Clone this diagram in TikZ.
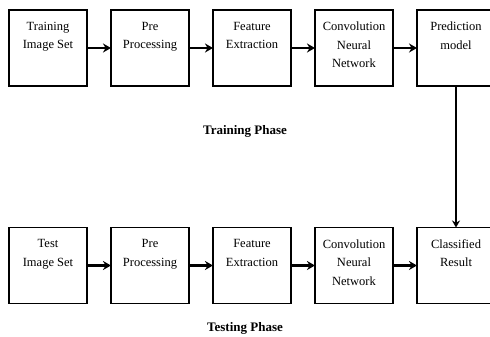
\documentclass[tikz,border=0pt]{standalone}
\usepackage{fontspec}
\setmainfont{Liberation Serif}
\usepackage{tikz}
\usetikzlibrary{arrows.meta,positioning}

\begin{document}
\begin{tikzpicture}[x=1pt, y=-1pt,
  blk/.style={draw, line width=1.6pt, minimum width=78pt,
              minimum height=76pt, inner sep=0pt, outer sep=0pt},
  lbl/.style={anchor=north, align=center, yshift=-8.5pt,
              font=\fontsize{12.5}{18.5}\selectfont},
  arr/.style={-{Stealth[length=8pt, width=9pt]}, line width=2.3pt},
  phase/.style={font=\fontsize{13}{15}\selectfont\bfseries}
]
\clip (0,0) rectangle (490,337);
% Training row
\node[blk, label={[lbl]north:Training\\Image Set}] (trimg) at (48,48) {};
\node[blk, label={[lbl]north:Pre\\Processing}, right=24pt of trimg] (trpre) {};
\node[blk, label={[lbl]north:Feature\\Extraction}, right=24pt of trpre] (trfeat) {};
\node[blk, label={[lbl]north:Convolution\\Neural\\Network}, right=24pt of trfeat] (trcnn) {};
\node[blk, label={[lbl]north:Prediction\\model}, right=24pt of trcnn] (pred) {};
\node[phase] (trphase) at (245,131) {Training Phase};
% Testing row
\node[blk, label={[lbl]north:Test\\Image Set}] (tsimg) at (48,265.5) {};
\node[blk, label={[lbl]north:Pre\\Processing}, right=24pt of tsimg] (tspre) {};
\node[blk, label={[lbl]north:Feature\\Extraction}, right=24pt of tspre] (tsfeat) {};
\node[blk, label={[lbl]north:Convolution\\Neural\\Network}, right=24pt of tsfeat] (tscnn) {};
\node[blk, label={[lbl]north:Classified\\Result}, right=24pt of tscnn] (result) {};
\node[phase] (tsphase) at (245,328) {Testing Phase};
% Arrows
\draw[arr] (trimg) -- (trpre);
\draw[arr] (trpre) -- (trfeat);
\draw[arr] (trfeat) -- (trcnn);
\draw[arr] (trcnn) -- (pred);
\draw[arr] (tsimg) -- (tspre);
\draw[arr] (tspre) -- (tsfeat);
\draw[arr] (tsfeat) -- (tscnn);
\draw[arr] (tscnn) -- (result);
\draw[-{Stealth[length=7pt, width=8pt]}, line width=1.5pt] (pred) -- (result);
\end{tikzpicture}
\end{document}
